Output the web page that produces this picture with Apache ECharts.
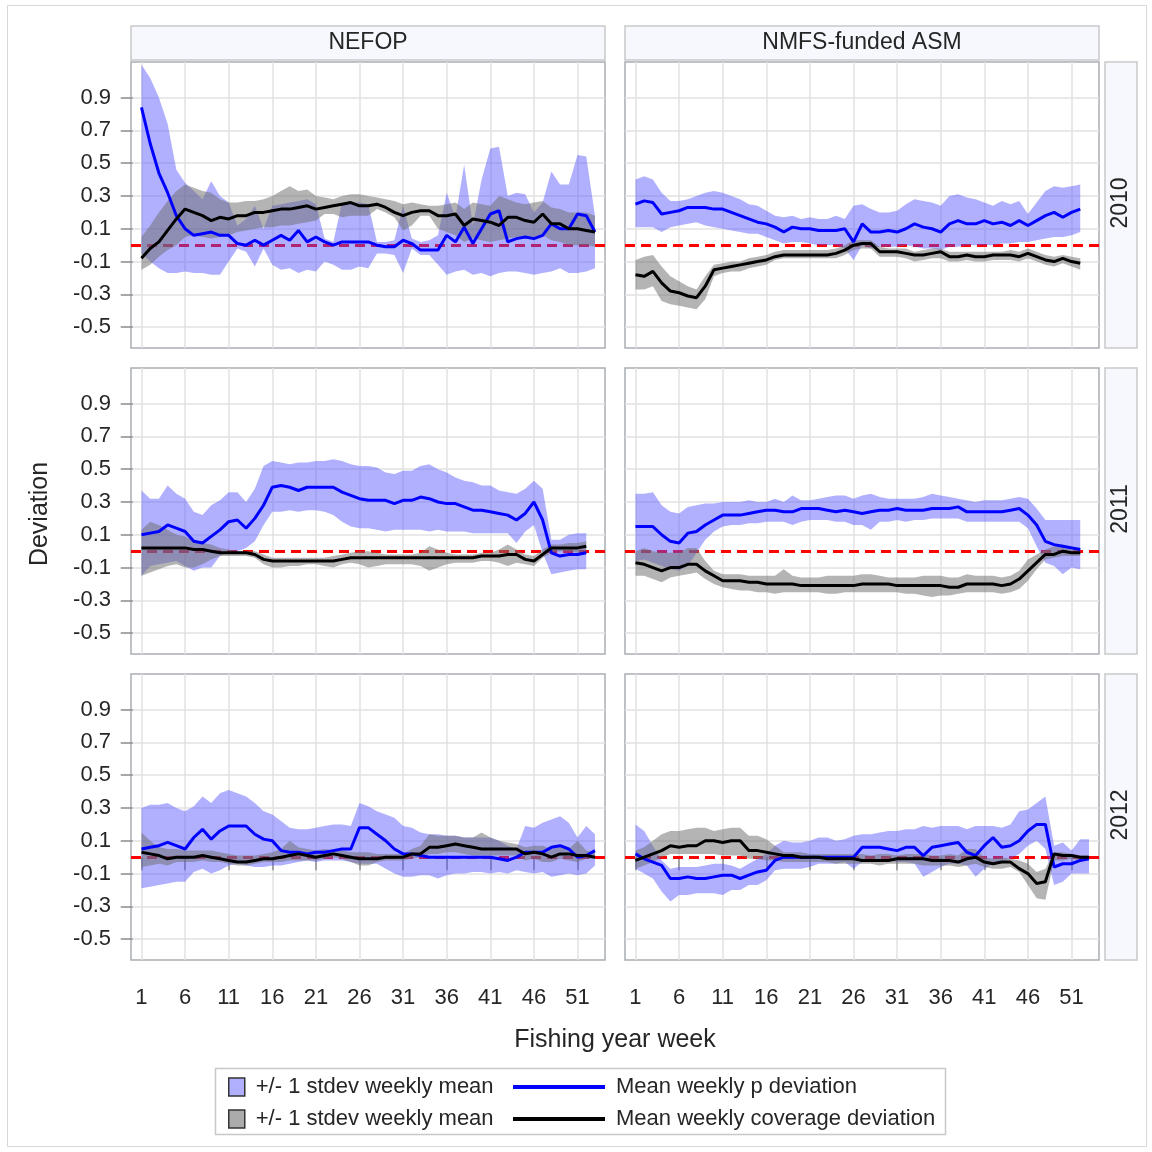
<!DOCTYPE html>
<html>
<head>
<meta charset="utf-8">
<script src="https://cdn.jsdelivr.net/npm/echarts@6/dist/echarts.min.js"></script>
<style>
  html, body { margin: 0; padding: 0; background: #fff; }
  #chart { width: 1152px; height: 1152px; }
</style>
</head>
<body>
<div id="chart"></div>
<script>
var weeks = [1, 2, 3, 4, 5, 6, 7, 8, 9, 10, 11, 12, 13, 14, 15, 16, 17, 18, 19, 20,
  21, 22, 23, 24, 25, 26, 27, 28, 29, 30, 31, 32, 33, 34, 35, 36, 37, 38, 39, 40,
  41, 42, 43, 44, 45, 46, 47, 48, 49, 50, 51, 52, 53];
var xTicks = [1, 6, 11, 16, 21, 26, 31, 36, 41, 46, 51];
var yTicks = [-0.5, -0.3, -0.1, 0.1, 0.3, 0.5, 0.7, 0.9];
var programs = ["NEFOP", "NMFS-funded ASM"];
var years = ["2010", "2011", "2012"];

// P = mean weekly p deviation (blue), C = mean weekly coverage deviation (black)
// NEFOP 2010
var nefop2010PMean = [0.84, 0.62, 0.44, 0.32, 0.18, 0.10, 0.06, 0.07, 0.08, 0.06, 0.06, 0.01, 0.00, 0.03, 0.00, 0.03, 0.06, 0.03, 0.09, 0.02, 0.05, 0.02, 0.00, 0.02, 0.02, 0.02, 0.02, 0.00, -0.01, -0.01, 0.03, 0.01, -0.03, -0.03, -0.03, 0.06, 0.02, 0.11, 0.01, 0.10, 0.19, 0.21, 0.02, 0.04, 0.05, 0.04, 0.06, 0.13, 0.10, 0.10, 0.19, 0.18, 0.08];
var nefop2010PHigh = [1.10, 1.02, 0.90, 0.74, 0.46, 0.38, 0.33, 0.28, 0.39, 0.30, 0.26, 0.12, 0.16, 0.24, 0.10, 0.24, 0.25, 0.26, 0.27, 0.28, 0.25, 0.04, 0.02, 0.26, 0.26, 0.26, 0.25, 0.02, 0.02, 0.03, 0.24, 0.04, 0.02, 0.03, 0.06, 0.32, 0.17, 0.49, 0.12, 0.40, 0.59, 0.60, 0.30, 0.32, 0.31, 0.20, 0.26, 0.45, 0.37, 0.37, 0.55, 0.54, 0.18];
var nefop2010PLow = [-0.05, -0.10, -0.14, -0.17, -0.17, -0.16, -0.17, -0.17, -0.18, -0.18, -0.10, -0.02, -0.04, -0.13, -0.02, -0.12, -0.15, -0.14, -0.17, -0.15, -0.16, -0.10, -0.12, -0.15, -0.15, -0.13, -0.14, -0.05, -0.05, -0.06, -0.17, -0.02, -0.06, -0.06, -0.12, -0.18, -0.16, -0.15, -0.18, -0.17, -0.19, -0.17, -0.16, -0.16, -0.17, -0.18, -0.17, -0.16, -0.14, -0.17, -0.17, -0.16, -0.14];
var nefop2010CMean = [-0.08, -0.02, 0.02, 0.09, 0.16, 0.22, 0.20, 0.18, 0.15, 0.17, 0.16, 0.18, 0.18, 0.20, 0.20, 0.21, 0.22, 0.22, 0.23, 0.24, 0.22, 0.23, 0.24, 0.25, 0.26, 0.24, 0.24, 0.25, 0.23, 0.20, 0.18, 0.20, 0.21, 0.21, 0.18, 0.18, 0.19, 0.12, 0.16, 0.15, 0.14, 0.12, 0.17, 0.17, 0.15, 0.14, 0.19, 0.13, 0.13, 0.10, 0.10, 0.09, 0.08];
var nefop2010CHigh = [0.05, 0.12, 0.20, 0.27, 0.33, 0.37, 0.35, 0.33, 0.32, 0.28, 0.26, 0.26, 0.27, 0.27, 0.28, 0.30, 0.33, 0.36, 0.33, 0.34, 0.30, 0.29, 0.28, 0.30, 0.31, 0.31, 0.30, 0.29, 0.28, 0.27, 0.25, 0.26, 0.25, 0.24, 0.24, 0.25, 0.26, 0.22, 0.26, 0.25, 0.24, 0.30, 0.28, 0.26, 0.25, 0.26, 0.27, 0.23, 0.22, 0.20, 0.20, 0.20, 0.18];
var nefop2010CLow = [-0.15, -0.12, -0.07, -0.03, 0.00, 0.05, 0.06, 0.05, 0.04, 0.05, 0.06, 0.08, 0.09, 0.10, 0.11, 0.11, 0.12, 0.12, 0.13, 0.14, 0.15, 0.19, 0.19, 0.17, 0.18, 0.18, 0.18, 0.22, 0.20, 0.17, 0.09, 0.12, 0.18, 0.18, 0.10, 0.08, 0.06, 0.02, 0.04, 0.03, 0.02, 0.03, 0.04, 0.05, 0.04, 0.05, 0.06, 0.03, 0.02, 0.00, 0.00, 0.00, -0.01];

// NMFS-funded ASM 2010
var asm2010PMean = [0.25, 0.27, 0.26, 0.19, 0.20, 0.21, 0.23, 0.23, 0.23, 0.22, 0.22, 0.20, 0.18, 0.16, 0.14, 0.13, 0.11, 0.08, 0.11, 0.10, 0.10, 0.09, 0.09, 0.09, 0.10, 0.02, 0.13, 0.08, 0.08, 0.09, 0.08, 0.10, 0.13, 0.11, 0.10, 0.08, 0.13, 0.15, 0.13, 0.13, 0.15, 0.13, 0.14, 0.12, 0.15, 0.12, 0.15, 0.18, 0.20, 0.17, 0.20, 0.22];
var asm2010PHigh = [0.40, 0.42, 0.40, 0.32, 0.27, 0.27, 0.28, 0.30, 0.32, 0.33, 0.32, 0.30, 0.28, 0.25, 0.24, 0.21, 0.18, 0.17, 0.18, 0.16, 0.17, 0.16, 0.16, 0.18, 0.16, 0.24, 0.25, 0.22, 0.20, 0.20, 0.21, 0.25, 0.28, 0.27, 0.26, 0.24, 0.30, 0.31, 0.29, 0.28, 0.26, 0.24, 0.27, 0.25, 0.27, 0.19, 0.26, 0.33, 0.36, 0.35, 0.36, 0.37];
var asm2010PLow = [0.11, 0.11, 0.11, 0.08, 0.11, 0.12, 0.13, 0.14, 0.12, 0.11, 0.10, 0.09, 0.08, 0.07, 0.07, 0.05, 0.03, 0.01, 0.02, 0.02, 0.01, 0.00, 0.00, 0.00, -0.02, -0.09, 0.00, -0.02, -0.01, -0.01, -0.01, 0.00, -0.01, -0.02, -0.02, -0.03, -0.01, -0.01, 0.00, 0.00, 0.00, 0.00, 0.01, 0.01, 0.02, 0.02, 0.03, 0.04, 0.05, 0.05, 0.06, 0.08];
var asm2010CMean = [-0.18, -0.19, -0.16, -0.23, -0.28, -0.29, -0.31, -0.32, -0.25, -0.15, -0.14, -0.13, -0.12, -0.11, -0.10, -0.09, -0.07, -0.06, -0.06, -0.06, -0.06, -0.06, -0.06, -0.05, -0.03, 0.00, 0.01, 0.01, -0.04, -0.04, -0.04, -0.05, -0.06, -0.06, -0.05, -0.04, -0.07, -0.07, -0.06, -0.07, -0.07, -0.06, -0.06, -0.06, -0.07, -0.05, -0.07, -0.09, -0.10, -0.08, -0.10, -0.11];
var asm2010CHigh = [-0.09, -0.07, -0.06, -0.13, -0.19, -0.22, -0.25, -0.27, -0.19, -0.12, -0.11, -0.10, -0.10, -0.08, -0.07, -0.06, -0.04, -0.03, -0.03, -0.03, -0.03, -0.03, -0.03, -0.02, 0.00, 0.03, 0.03, 0.03, -0.01, -0.02, -0.02, -0.02, -0.04, -0.03, -0.02, -0.02, -0.04, -0.04, -0.04, -0.04, -0.04, -0.04, -0.04, -0.03, -0.04, -0.02, -0.04, -0.06, -0.07, -0.06, -0.07, -0.08];
var asm2010CLow = [-0.27, -0.27, -0.25, -0.34, -0.36, -0.37, -0.38, -0.39, -0.33, -0.19, -0.17, -0.16, -0.16, -0.14, -0.13, -0.12, -0.09, -0.08, -0.08, -0.08, -0.08, -0.08, -0.08, -0.08, -0.06, -0.03, -0.02, -0.02, -0.07, -0.07, -0.07, -0.08, -0.10, -0.09, -0.08, -0.08, -0.10, -0.10, -0.09, -0.10, -0.10, -0.09, -0.09, -0.09, -0.10, -0.08, -0.10, -0.12, -0.13, -0.11, -0.13, -0.15];

// NEFOP 2011
var nefop2011PMean = [0.10, 0.11, 0.12, 0.16, 0.14, 0.12, 0.06, 0.05, 0.09, 0.13, 0.18, 0.19, 0.14, 0.20, 0.28, 0.39, 0.40, 0.39, 0.37, 0.39, 0.39, 0.39, 0.39, 0.36, 0.34, 0.32, 0.31, 0.31, 0.31, 0.29, 0.31, 0.31, 0.33, 0.32, 0.30, 0.29, 0.29, 0.27, 0.25, 0.25, 0.24, 0.23, 0.22, 0.19, 0.23, 0.30, 0.19, -0.01, -0.03, -0.02, -0.02, -0.01];
var nefop2011PHigh = [0.37, 0.32, 0.32, 0.40, 0.35, 0.32, 0.24, 0.22, 0.28, 0.31, 0.36, 0.36, 0.30, 0.38, 0.52, 0.55, 0.54, 0.53, 0.54, 0.54, 0.55, 0.55, 0.56, 0.55, 0.53, 0.52, 0.52, 0.51, 0.48, 0.47, 0.49, 0.49, 0.52, 0.53, 0.50, 0.48, 0.45, 0.43, 0.42, 0.40, 0.40, 0.37, 0.36, 0.35, 0.38, 0.43, 0.38, 0.07, 0.07, 0.10, 0.11, 0.11];
var nefop2011PLow = [-0.15, -0.09, -0.08, -0.07, -0.06, -0.09, -0.12, -0.10, -0.10, -0.03, 0.00, 0.00, 0.02, 0.06, 0.16, 0.24, 0.24, 0.25, 0.24, 0.25, 0.25, 0.24, 0.22, 0.18, 0.15, 0.14, 0.14, 0.13, 0.12, 0.13, 0.13, 0.13, 0.13, 0.12, 0.13, 0.12, 0.12, 0.12, 0.11, 0.11, 0.11, 0.11, 0.11, 0.05, 0.12, 0.16, -0.01, -0.14, -0.13, -0.12, -0.11, -0.11];
var nefop2011CMean = [0.02, 0.02, 0.02, 0.02, 0.02, 0.02, 0.01, 0.01, 0.00, -0.01, -0.01, -0.01, -0.01, -0.02, -0.05, -0.06, -0.06, -0.06, -0.06, -0.06, -0.06, -0.06, -0.06, -0.05, -0.04, -0.04, -0.04, -0.04, -0.04, -0.04, -0.04, -0.04, -0.04, -0.04, -0.04, -0.04, -0.04, -0.04, -0.04, -0.03, -0.03, -0.03, -0.02, -0.02, -0.05, -0.06, -0.02, 0.02, 0.02, 0.02, 0.02, 0.03];
var nefop2011CHigh = [0.13, 0.18, 0.16, 0.13, 0.10, 0.09, 0.06, 0.05, 0.04, 0.02, 0.01, 0.00, 0.00, 0.00, -0.02, -0.04, -0.04, -0.04, -0.04, -0.04, -0.04, -0.04, -0.03, -0.02, -0.01, 0.00, 0.00, -0.01, -0.02, -0.02, -0.02, -0.02, -0.01, 0.03, 0.01, -0.01, -0.02, -0.02, -0.02, -0.01, -0.01, 0.01, 0.04, 0.01, -0.02, -0.03, 0.01, 0.04, 0.04, 0.05, 0.05, 0.06];
var nefop2011CLow = [-0.15, -0.13, -0.11, -0.09, -0.08, -0.10, -0.10, -0.08, -0.05, -0.03, -0.03, -0.03, -0.03, -0.04, -0.08, -0.10, -0.10, -0.09, -0.09, -0.08, -0.08, -0.09, -0.10, -0.08, -0.07, -0.08, -0.10, -0.09, -0.08, -0.08, -0.08, -0.08, -0.09, -0.12, -0.10, -0.08, -0.07, -0.07, -0.07, -0.06, -0.06, -0.07, -0.09, -0.07, -0.08, -0.09, -0.04, -0.01, 0.00, 0.00, -0.01, 0.00];

// NMFS-funded ASM 2011
var asm2011PMean = [0.15, 0.15, 0.15, 0.10, 0.06, 0.05, 0.11, 0.12, 0.16, 0.19, 0.22, 0.22, 0.22, 0.23, 0.24, 0.25, 0.25, 0.24, 0.24, 0.26, 0.26, 0.26, 0.25, 0.24, 0.25, 0.24, 0.23, 0.24, 0.25, 0.25, 0.26, 0.25, 0.25, 0.25, 0.26, 0.26, 0.26, 0.27, 0.24, 0.24, 0.24, 0.24, 0.24, 0.25, 0.26, 0.22, 0.16, 0.06, 0.04, 0.03, 0.02, 0.01];
var asm2011PHigh = [0.35, 0.35, 0.36, 0.28, 0.24, 0.23, 0.27, 0.28, 0.29, 0.29, 0.30, 0.30, 0.30, 0.31, 0.30, 0.30, 0.32, 0.30, 0.34, 0.31, 0.31, 0.32, 0.33, 0.34, 0.34, 0.32, 0.34, 0.35, 0.33, 0.32, 0.32, 0.32, 0.32, 0.33, 0.35, 0.34, 0.33, 0.32, 0.31, 0.30, 0.31, 0.31, 0.31, 0.32, 0.33, 0.32, 0.26, 0.19, 0.19, 0.19, 0.19, 0.19];
var asm2011PLow = [-0.06, -0.05, -0.07, -0.09, -0.11, -0.12, -0.09, -0.01, 0.07, 0.12, 0.15, 0.16, 0.16, 0.17, 0.17, 0.18, 0.18, 0.18, 0.16, 0.18, 0.19, 0.19, 0.19, 0.18, 0.18, 0.16, 0.16, 0.13, 0.18, 0.18, 0.19, 0.18, 0.19, 0.19, 0.20, 0.20, 0.20, 0.20, 0.18, 0.18, 0.18, 0.18, 0.18, 0.18, 0.18, 0.14, 0.03, -0.07, -0.09, -0.14, -0.10, -0.11];
var asm2011CMean = [-0.07, -0.08, -0.10, -0.12, -0.10, -0.10, -0.08, -0.08, -0.12, -0.15, -0.18, -0.18, -0.18, -0.19, -0.19, -0.20, -0.20, -0.20, -0.20, -0.21, -0.21, -0.21, -0.21, -0.21, -0.21, -0.21, -0.20, -0.20, -0.20, -0.20, -0.21, -0.21, -0.21, -0.21, -0.21, -0.21, -0.22, -0.22, -0.20, -0.20, -0.20, -0.20, -0.21, -0.20, -0.17, -0.12, -0.07, -0.02, -0.02, 0.00, -0.01, -0.01];
var asm2011CHigh = [0.00, 0.02, 0.00, -0.01, -0.01, -0.01, 0.02, 0.02, -0.06, -0.12, -0.14, -0.14, -0.14, -0.15, -0.15, -0.15, -0.15, -0.11, -0.15, -0.16, -0.16, -0.16, -0.15, -0.15, -0.15, -0.15, -0.14, -0.14, -0.15, -0.16, -0.16, -0.16, -0.16, -0.15, -0.15, -0.15, -0.16, -0.16, -0.14, -0.15, -0.15, -0.15, -0.16, -0.15, -0.12, -0.05, -0.02, 0.01, 0.03, 0.04, 0.03, 0.02];
var asm2011CLow = [-0.15, -0.15, -0.17, -0.19, -0.16, -0.15, -0.14, -0.13, -0.17, -0.20, -0.22, -0.23, -0.24, -0.24, -0.25, -0.25, -0.26, -0.25, -0.25, -0.25, -0.25, -0.25, -0.26, -0.26, -0.25, -0.25, -0.25, -0.25, -0.25, -0.25, -0.25, -0.26, -0.26, -0.27, -0.28, -0.27, -0.27, -0.26, -0.25, -0.25, -0.25, -0.25, -0.26, -0.25, -0.23, -0.18, -0.11, -0.05, -0.04, -0.03, -0.03, -0.03];

// NEFOP 2012
var nefop2012PMean = [0.05, 0.06, 0.07, 0.09, 0.07, 0.05, 0.12, 0.17, 0.11, 0.16, 0.19, 0.19, 0.19, 0.14, 0.11, 0.10, 0.04, 0.03, 0.03, 0.02, 0.03, 0.03, 0.04, 0.05, 0.05, 0.18, 0.18, 0.14, 0.10, 0.05, 0.02, 0.02, 0.01, 0.00, 0.00, 0.00, 0.00, 0.00, 0.00, 0.00, 0.00, -0.01, -0.02, 0.00, 0.03, 0.03, 0.03, 0.06, 0.07, 0.05, 0.00, 0.01, 0.04];
var nefop2012PHigh = [0.30, 0.32, 0.32, 0.33, 0.30, 0.28, 0.31, 0.37, 0.33, 0.39, 0.41, 0.39, 0.37, 0.33, 0.28, 0.26, 0.22, 0.18, 0.17, 0.17, 0.18, 0.19, 0.20, 0.20, 0.19, 0.33, 0.31, 0.28, 0.26, 0.24, 0.19, 0.18, 0.15, 0.14, 0.14, 0.13, 0.13, 0.12, 0.12, 0.12, 0.12, 0.10, 0.07, 0.05, 0.19, 0.18, 0.21, 0.23, 0.25, 0.21, 0.12, 0.19, 0.14];
var nefop2012PLow = [-0.19, -0.18, -0.17, -0.16, -0.15, -0.15, -0.09, -0.07, -0.10, -0.08, -0.05, -0.04, -0.05, -0.06, -0.06, -0.05, -0.05, -0.04, -0.03, -0.02, -0.03, -0.02, -0.02, -0.02, -0.03, -0.04, -0.04, -0.04, -0.07, -0.10, -0.12, -0.12, -0.11, -0.11, -0.13, -0.11, -0.10, -0.10, -0.09, -0.09, -0.10, -0.09, -0.10, -0.08, -0.09, -0.10, -0.09, -0.12, -0.11, -0.10, -0.11, -0.10, -0.05];
var nefop2012CMean = [0.03, 0.02, 0.01, -0.01, 0.00, 0.00, 0.00, 0.01, 0.00, -0.01, -0.02, -0.03, -0.03, -0.02, -0.01, -0.01, 0.00, 0.01, 0.02, 0.01, 0.00, 0.01, 0.02, 0.01, 0.00, -0.01, -0.01, -0.01, 0.00, 0.00, 0.00, 0.02, 0.02, 0.06, 0.06, 0.07, 0.08, 0.07, 0.06, 0.05, 0.05, 0.05, 0.05, 0.05, 0.02, 0.03, 0.02, 0.00, 0.02, 0.02, 0.01, 0.01, 0.00];
var nefop2012CHigh = [0.15, 0.10, 0.06, 0.05, 0.05, 0.04, 0.04, 0.04, 0.04, 0.03, 0.02, 0.01, 0.01, 0.01, 0.02, 0.03, 0.05, 0.10, 0.06, 0.05, 0.04, 0.05, 0.04, 0.04, 0.03, 0.03, 0.03, 0.02, 0.02, 0.02, 0.02, 0.05, 0.07, 0.14, 0.13, 0.13, 0.13, 0.12, 0.12, 0.15, 0.12, 0.10, 0.09, 0.08, 0.06, 0.07, 0.07, 0.05, 0.06, 0.05, 0.10, 0.04, 0.03];
var nefop2012CLow = [-0.06, -0.05, -0.04, -0.05, -0.03, -0.03, -0.03, -0.02, -0.03, -0.03, -0.04, -0.05, -0.05, -0.04, -0.03, -0.03, -0.03, -0.02, -0.02, -0.02, -0.02, -0.01, 0.00, -0.01, -0.03, -0.05, -0.05, -0.03, -0.02, -0.02, -0.02, -0.01, 0.00, 0.02, 0.02, 0.03, 0.03, 0.02, 0.01, 0.01, 0.01, 0.01, 0.01, 0.01, -0.02, -0.01, -0.03, -0.03, -0.01, -0.02, -0.03, -0.01, -0.01];

// NMFS-funded ASM 2012
var asm2012PMean = [0.02, -0.01, -0.03, -0.05, -0.13, -0.13, -0.12, -0.13, -0.13, -0.12, -0.11, -0.11, -0.13, -0.11, -0.09, -0.08, -0.02, 0.00, 0.00, 0.00, 0.00, 0.00, 0.00, 0.00, 0.00, 0.00, 0.06, 0.06, 0.06, 0.05, 0.04, 0.06, 0.06, 0.01, 0.06, 0.07, 0.08, 0.09, 0.03, 0.01, 0.07, 0.12, 0.06, 0.07, 0.10, 0.16, 0.20, 0.20, -0.06, -0.04, -0.04, -0.02, -0.01];
var asm2012PHigh = [0.20, 0.16, 0.07, -0.02, -0.07, -0.06, -0.06, -0.06, -0.05, -0.04, -0.04, -0.05, -0.07, -0.04, -0.01, 0.02, 0.07, 0.10, 0.09, 0.09, 0.10, 0.12, 0.12, 0.10, 0.11, 0.13, 0.14, 0.14, 0.15, 0.16, 0.16, 0.17, 0.17, 0.19, 0.18, 0.19, 0.19, 0.19, 0.17, 0.19, 0.19, 0.19, 0.18, 0.20, 0.28, 0.29, 0.33, 0.37, 0.07, 0.09, 0.04, 0.11, 0.11];
var asm2012PLow = [-0.07, -0.10, -0.13, -0.21, -0.27, -0.23, -0.23, -0.22, -0.22, -0.22, -0.23, -0.20, -0.20, -0.17, -0.17, -0.14, -0.08, -0.07, -0.07, -0.07, -0.06, -0.04, -0.04, -0.04, -0.03, -0.07, -0.03, -0.02, -0.03, -0.02, -0.03, -0.03, -0.04, -0.12, -0.09, -0.06, -0.04, -0.04, -0.05, -0.12, -0.07, -0.04, -0.03, -0.01, 0.02, 0.07, 0.10, 0.05, -0.17, -0.15, -0.10, -0.10, -0.10];
var asm2012CMean = [-0.02, 0.00, 0.02, 0.04, 0.07, 0.06, 0.07, 0.07, 0.10, 0.10, 0.09, 0.10, 0.10, 0.04, 0.04, 0.03, 0.02, 0.01, 0.01, 0.00, 0.00, 0.00, -0.01, -0.01, -0.01, -0.01, -0.02, -0.02, -0.02, -0.02, -0.01, -0.01, -0.01, -0.01, -0.02, -0.02, -0.02, -0.03, -0.01, 0.00, -0.03, -0.04, -0.03, -0.03, -0.07, -0.10, -0.16, -0.15, 0.02, 0.01, 0.01, 0.00, 0.00];
var asm2012CHigh = [0.04, 0.06, 0.10, 0.14, 0.16, 0.16, 0.17, 0.18, 0.18, 0.16, 0.17, 0.18, 0.18, 0.13, 0.13, 0.11, 0.07, 0.03, 0.03, 0.03, 0.02, 0.02, 0.02, 0.02, 0.02, 0.02, 0.02, 0.01, 0.02, 0.02, 0.01, 0.02, 0.02, 0.02, 0.01, 0.01, 0.02, 0.01, 0.05, 0.05, 0.00, -0.01, 0.00, -0.01, -0.02, -0.04, -0.09, -0.07, 0.03, 0.03, 0.02, 0.01, 0.01];
var asm2012CLow = [-0.07, -0.05, -0.03, 0.00, 0.02, 0.02, 0.02, 0.02, 0.02, 0.02, 0.01, 0.01, 0.01, -0.01, -0.01, -0.02, -0.02, -0.03, -0.03, -0.03, -0.03, -0.03, -0.03, -0.04, -0.04, -0.04, -0.04, -0.04, -0.05, -0.04, -0.04, -0.04, -0.04, -0.05, -0.05, -0.05, -0.05, -0.06, -0.05, -0.04, -0.06, -0.07, -0.07, -0.06, -0.09, -0.17, -0.25, -0.26, -0.02, -0.02, -0.01, -0.02, -0.02];

var panels = [
  { row: 0, col: 0, pMean: nefop2010PMean, pHigh: nefop2010PHigh, pLow: nefop2010PLow, cMean: nefop2010CMean, cHigh: nefop2010CHigh, cLow: nefop2010CLow },
  { row: 0, col: 1, pMean: asm2010PMean, pHigh: asm2010PHigh, pLow: asm2010PLow, cMean: asm2010CMean, cHigh: asm2010CHigh, cLow: asm2010CLow },
  { row: 1, col: 0, pMean: nefop2011PMean, pHigh: nefop2011PHigh, pLow: nefop2011PLow, cMean: nefop2011CMean, cHigh: nefop2011CHigh, cLow: nefop2011CLow },
  { row: 1, col: 1, pMean: asm2011PMean, pHigh: asm2011PHigh, pLow: asm2011PLow, cMean: asm2011CMean, cHigh: asm2011CHigh, cLow: asm2011CLow },
  { row: 2, col: 0, pMean: nefop2012PMean, pHigh: nefop2012PHigh, pLow: nefop2012PLow, cMean: nefop2012CMean, cHigh: nefop2012CHigh, cLow: nefop2012CLow },
  { row: 2, col: 1, pMean: asm2012PMean, pHigh: asm2012PHigh, pLow: asm2012PLow, cMean: asm2012CMean, cHigh: asm2012CHigh, cLow: asm2012CLow }
];

var FONT = '"Liberation Sans", Arial, sans-serif';
var TEXT = "#262626";
var BAND_P = "+/- 1 stdev weekly mean";
var BAND_C = "+/- 1 stdev weekly mean "; // same label, second band
var LINE_P = "Mean weekly p deviation";
var LINE_C = "Mean weekly coverage deviation";

var gridLeft = [131, 625];
var gridTop = [62, 368, 674];
var gridW = 474;
var gridH = 286;

function toPairs(vals) {
  return vals.map(function (v, i) { return [weeks[i], v]; });
}

// one polygon per band: upper edge left to right, lower edge back, via api.coord
function bandSeries(name, i, high, low, fill, legendColor) {
  var rows = high.map(function (v, k) { return [weeks[k], low[k], v]; });
  return {
    name: name, type: "custom", xAxisIndex: i, yAxisIndex: i,
    data: rows, encode: { x: 0, y: [1, 2] }, silent: true, clip: true, z: 2,
    itemStyle: { color: legendColor },
    renderItem: function (params, api) {
      if (params.dataIndex !== 0) return null;
      var pts = [];
      rows.forEach(function (r) { pts.push(api.coord([r[0], r[2]])); });
      for (var k = rows.length - 1; k >= 0; k--) pts.push(api.coord([rows[k][0], rows[k][1]]));
      return { type: "polygon", shape: { points: pts }, style: { fill: fill } };
    }
  };
}

var grids = [], xAxes = [], yAxes = [], series = [];

panels.forEach(function (p, i) {
  var bottomRow = p.row === 2;
  var leftCol = p.col === 0;
  grids.push({
    left: gridLeft[p.col], top: gridTop[p.row], width: gridW, height: gridH,
    show: true, borderColor: "#a9adb2", borderWidth: 1.5, backgroundColor: "transparent"
  });
  xAxes.push({
    type: "value", gridIndex: i, min: -0.2, max: 54.15,
    axisLine: { show: false },
    axisTick: { show: bottomRow, customValues: xTicks, length: 13, lineStyle: { color: "#8c8c8c", width: 1.5 } },
    axisLabel: { show: bottomRow, customValues: xTicks, margin: 27, fontSize: 22, color: TEXT, fontFamily: FONT },
    splitLine: { show: true, lineStyle: { color: "#e2e2e2", width: 1.5 } }
  });
  yAxes.push({
    type: "value", gridIndex: i, min: -0.627, max: 1.117,
    axisLine: { show: false },
    axisTick: { show: leftCol, customValues: yTicks, length: 12, lineStyle: { color: "#8c8c8c", width: 1.5 } },
    axisLabel: {
      show: leftCol, customValues: yTicks, margin: 20, fontSize: 22, color: TEXT, fontFamily: FONT,
      formatter: function (v) { return v.toFixed(1); }
    },
    splitLine: { show: true, lineStyle: { color: "#e2e2e2", width: 1.5 } }
  });

  var pBand = bandSeries(BAND_P, i, p.pHigh, p.pLow, "rgba(80,80,255,0.45)", "#b0b0ff");
  pBand.markLine = {
    silent: true, z: 1, symbol: ["none", "none"], label: { show: false },
    lineStyle: { color: "#ff0000", width: 3, type: [10, 6] },
    data: [{ yAxis: 0 }]
  };
  series.push(pBand);
  series.push(bandSeries(BAND_C, i, p.cHigh, p.cLow, "rgba(112,112,112,0.52)", "#ababab"));
  series.push({
    name: LINE_P, type: "line", xAxisIndex: i, yAxisIndex: i, data: toPairs(p.pMean),
    symbol: "none", color: "#0000ff", lineStyle: { color: "#0000ff", width: 3 }, z: 3
  });
  series.push({
    name: LINE_C, type: "line", xAxisIndex: i, yAxisIndex: i, data: toPairs(p.cMean),
    symbol: "none", color: "#000000", lineStyle: { color: "#000000", width: 3 }, z: 3
  });
});

var graphics = [
  { type: "rect", silent: true, shape: { x: 7.5, y: 5.5, width: 1139, height: 1141 },
    style: { fill: "none", stroke: "#d8d8d8", lineWidth: 1 } },
  { type: "rect", silent: true, shape: { x: 215.5, y: 1068.5, width: 730, height: 66 },
    style: { fill: "none", stroke: "#c8c8c8", lineWidth: 1.5 } },
  { type: "text", silent: true, x: 615, y: 1040,
    style: { text: "Fishing year week", font: "25px " + FONT, fill: TEXT, align: "center", verticalAlign: "middle" } },
  { type: "text", silent: true, x: 40, y: 514, rotation: Math.PI / 2,
    style: { text: "Deviation", font: "25px " + FONT, fill: TEXT, align: "center", verticalAlign: "middle" } }
];
programs.forEach(function (name, c) {
  graphics.push({ type: "rect", silent: true, shape: { x: gridLeft[c], y: 26, width: gridW, height: 34 },
    style: { fill: "#f6f8fd", stroke: "#c9c9c9", lineWidth: 1.5 } });
  graphics.push({ type: "text", silent: true, x: gridLeft[c] + gridW / 2, y: 43,
    style: { text: name, font: "23px " + FONT, fill: TEXT, align: "center", verticalAlign: "middle" } });
});
years.forEach(function (yr, r) {
  graphics.push({ type: "rect", silent: true, shape: { x: 1105, y: gridTop[r], width: 32, height: gridH },
    style: { fill: "#f6f8fd", stroke: "#c9c9c9", lineWidth: 1.5 } });
  graphics.push({ type: "text", silent: true, x: 1121, y: gridTop[r] + 141, rotation: Math.PI / 2,
    style: { text: yr, font: "23px " + FONT, fill: TEXT, align: "center", verticalAlign: "middle" } });
});

var chart = echarts.init(document.getElementById("chart"), null, { renderer: "canvas" });
chart.setOption({
  animation: false,
  backgroundColor: "#ffffff",
  grid: grids,
  xAxis: xAxes,
  yAxis: yAxes,
  legend: [
    {
      orient: "vertical", left: 228, top: 1076, padding: 0,
      itemWidth: 16, itemHeight: 18, itemGap: 10, icon: "rect", selectedMode: false,
      textStyle: { fontSize: 22, lineHeight: 22, color: TEXT, fontFamily: FONT, padding: [0, 0, 0, 6] },
      data: [
        { name: BAND_P, itemStyle: { color: "#b0b0ff", borderColor: "#333333", borderWidth: 1.5 } },
        { name: BAND_C, itemStyle: { color: "#ababab", borderColor: "#333333", borderWidth: 1.5 } }
      ]
    },
    {
      orient: "vertical", left: 513, top: 1076, padding: 0,
      itemWidth: 92, itemHeight: 4, itemGap: 10, icon: "rect", selectedMode: false,
      textStyle: { fontSize: 22, lineHeight: 22, color: TEXT, fontFamily: FONT, padding: [0, 0, 0, 6] },
      data: [
        { name: LINE_P, itemStyle: { color: "#0000ff" } },
        { name: LINE_C, itemStyle: { color: "#000000" } }
      ]
    }
  ],
  graphic: graphics,
  series: series
});
</script>
</body>
</html>
